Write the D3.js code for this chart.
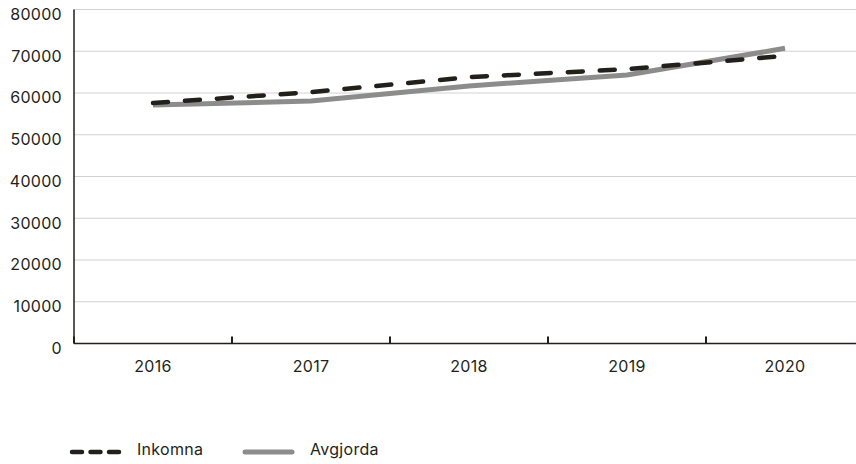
<!DOCTYPE html>
<html><head><meta charset="utf-8">
<script src="https://cdn.jsdelivr.net/npm/d3@7/dist/d3.min.js"></script>
<style>
html,body{margin:0;padding:0;background:#fff;}
text{font-family:Inter,"Liberation Sans",Arial,sans-serif;font-size:16px;fill:#231f20;letter-spacing:0.3px;}
</style></head>
<body>
<svg id="c" width="856" height="464"></svg>
<script>
const years = ["2016","2017","2018","2019","2020"];
const inkomna = [57600, 60200, 63800, 65700, 68900];
const avgjorda = [57100, 58100, 61700, 64300, 70700];
const yTicks = [0,10000,20000,30000,40000,50000,60000,70000,80000];
const seriesNames = ["Inkomna","Avgjorda"];

const svg = d3.select("#c");
const x = d3.scaleBand().domain(years).range([74, 864]).padding(0);
const y = d3.scaleLinear().domain([0, 80000]).range([343.5, 9.5]);
const ink = "#231f1a";

// gridlines
svg.append("g").selectAll("line").data(yTicks.filter(d=>d>0)).join("line")
  .attr("x1",74).attr("x2",856).attr("y1",d=>y(d)).attr("y2",d=>y(d))
  .attr("stroke","#d2d2d2").attr("stroke-width",1);

// y labels
svg.append("g").selectAll("text").data(yTicks).join("text")
  .attr("x",62).attr("y",d=>y(d)+6).attr("text-anchor","end").attr("dominant-baseline","middle")
  .text(d=>d);

// axes
svg.append("line").attr("x1",74).attr("x2",74).attr("y1",y(80000)).attr("y2",y(0))
  .attr("stroke",ink).attr("stroke-width",1.5);
svg.append("line").attr("x1",74).attr("x2",856).attr("y1",y(0)).attr("y2",y(0))
  .attr("stroke",ink).attr("stroke-width",1.5);
const bounds = years.map(d=>x(d));
svg.append("g").selectAll("line").data(bounds).join("line")
  .attr("x1",d=>d).attr("x2",d=>d).attr("y1",y(0)-7).attr("y2",y(0))
  .attr("stroke",ink).attr("stroke-width",2);

// x labels
svg.append("g").selectAll("text").data(years).join("text")
  .attr("x",d=>x(d)+x.bandwidth()/2).attr("y",368).attr("text-anchor","middle").attr("dominant-baseline","middle")
  .text(d=>d);

const line = d3.line().x((d,i)=>x(years[i])+x.bandwidth()/2).y(d=>y(d));
svg.append("path").datum(avgjorda).attr("d",line).attr("fill","none")
  .attr("stroke","#8c8c8c").attr("stroke-width",5);
svg.append("path").datum(inkomna).attr("d",line).attr("fill","none")
  .attr("stroke",ink).attr("stroke-width",4.5).attr("stroke-linecap","round")
  .attr("stroke-dasharray","15,17");

// legend
const lg = svg.append("g");
lg.append("line").attr("x1",72).attr("x2",119).attr("y1",452).attr("y2",452)
  .attr("stroke",ink).attr("stroke-width",4.5).attr("stroke-linecap","round").attr("stroke-dasharray","10,8.5");
lg.append("text").attr("x",137).attr("y",451).attr("dominant-baseline","middle").text(seriesNames[0]);
lg.append("line").attr("x1",245).attr("x2",292).attr("y1",452).attr("y2",452)
  .attr("stroke","#8c8c8c").attr("stroke-width",5).attr("stroke-linecap","round");
lg.append("text").attr("x",310).attr("y",451).attr("dominant-baseline","middle").text(seriesNames[1]);
</script>
</body></html>
